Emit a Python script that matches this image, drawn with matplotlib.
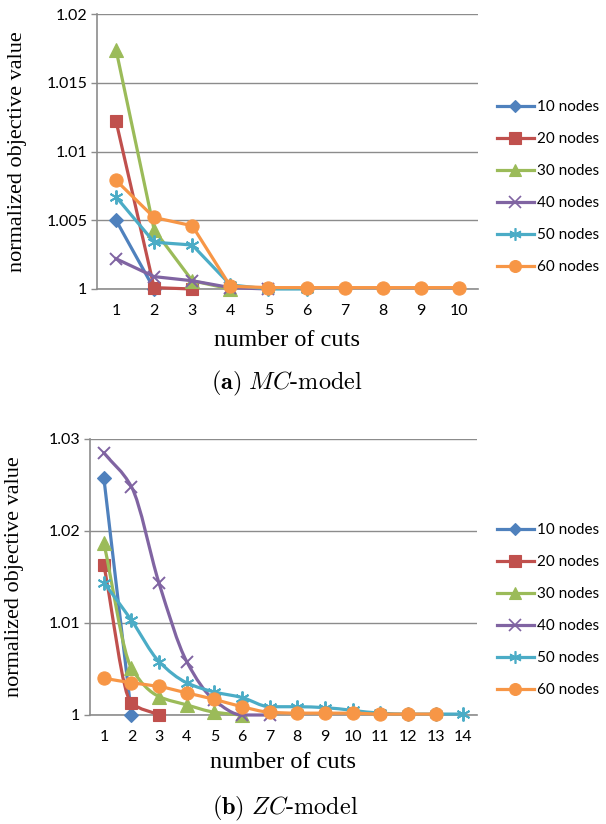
import numpy as np
import matplotlib
matplotlib.use("Agg")
import matplotlib.pyplot as plt
from matplotlib.path import Path
from matplotlib.patches import PathPatch
from matplotlib.lines import Line2D

plt.rcParams['mathtext.fontset'] = 'cm'

# ---------------- data ----------------
series_labels = ["10 nodes", "20 nodes", "30 nodes", "40 nodes", "50 nodes", "60 nodes"]

# (a) MC-model : values by number of cuts (starting at 1)
mc_10 = [1.0050, 1.0000]
mc_20 = [1.0122, 1.0001, 1.0000]
mc_30 = [1.0174, 1.0043, 1.0006, 1.0000]
mc_40 = [1.0022, 1.0009, 1.0006, 1.0001, 1.0000]
mc_50 = [1.0067, 1.0034, 1.0032, 1.0003, 1.0000, 1.0000]
mc_60 = [1.0079, 1.0052, 1.0046, 1.0002, 1.0001, 1.0001, 1.0001, 1.0001, 1.0001, 1.0001]
mc_cuts = [str(i) for i in range(1, 11)]
mc_yticks = [1.0, 1.005, 1.01, 1.015, 1.02]
mc_yticklabels = ["1", "1.005", "1.01", "1.015", "1.02"]

# (b) ZC-model
zc_10 = [1.0258, 1.0000]
zc_20 = [1.0163, 1.0013, 1.0000]
zc_30 = [1.0187, 1.0051, 1.0020, 1.0011, 1.0003, 1.0000]
zc_40 = [1.0285, 1.0248, 1.0143, 1.0058, 1.0016, 1.0000, 1.0000]
zc_50 = [1.0144, 1.0103, 1.0058, 1.0035, 1.0025, 1.0019, 1.0009, 1.0009,
         1.0008, 1.0005, 1.0002, 1.0001, 1.0001, 1.0001]
zc_60 = [1.0040, 1.0035, 1.0031, 1.0024, 1.0017, 1.0009, 1.0003, 1.0002,
         1.0002, 1.0002, 1.0001, 1.0001, 1.0001]
zc_cuts = [str(i) for i in range(1, 15)]
zc_yticks = [1.0, 1.01, 1.02, 1.03]
zc_yticklabels = ["1", "1.01", "1.02", "1.03"]

# ---------------- styles ----------------
colors = ["#4F81BD", "#C0504D", "#9BBB59", "#8064A2", "#4BACC6", "#F79646"]
markers = ["D", "s", "^", "x", (6, 2, 0), "o"]
msizes = [7, 9, 9.5, 9, 10, 9.5]
LW = 2.3
GRID = "#8C8C8C"
TICKFONT = "Lato"
SERIF = "Liberation Serif"
W, H = 606, 824
LEG_FS = 11

fig = plt.figure(figsize=(W / 100, H / 100), dpi=100)


def monotone_tangents(ys):
    n = len(ys)
    d = [ys[i + 1] - ys[i] for i in range(n - 1)]
    m = [0.0] * n
    m[0] = d[0]
    m[-1] = d[-1]
    for i in range(1, n - 1):
        if d[i - 1] * d[i] <= 0:
            m[i] = 0.0
        else:
            m[i] = 2.0 / (1.0 / d[i - 1] + 1.0 / d[i])
    return m


def smooth_path(xs, ys):
    m = monotone_tangents(ys)
    verts = [(xs[0], ys[0])]
    codes = [Path.MOVETO]
    for i in range(len(xs) - 1):
        c1 = (xs[i] + 1 / 3.0, ys[i] + m[i] / 3.0)
        c2 = (xs[i + 1] - 1 / 3.0, ys[i + 1] - m[i + 1] / 3.0)
        verts += [c1, c2, (xs[i + 1], ys[i + 1])]
        codes += [Path.CURVE4, Path.CURVE4, Path.CURVE4]
    return Path(verts, codes)


def place_legend(handles, first_y, last_y, left_x):
    """Place a legend so that its first/last row centres land at given pixel rows."""
    ls = 1.05
    leg = None
    for _ in range(4):
        if leg is not None:
            leg.remove()
        leg = fig.legend(handles, series_labels, loc="center left",
                         bbox_to_anchor=(left_x / W, 1 - (first_y + last_y) / 2 / H),
                         frameon=False, prop={"family": TICKFONT, "size": LEG_FS},
                         handlelength=2.4, handletextpad=0.25, labelspacing=ls,
                         borderpad=0, borderaxespad=0, numpoints=1)
        fig.canvas.draw()
        t = leg.get_texts()
        c0 = (t[0].get_window_extent().y0 + t[0].get_window_extent().y1) / 2
        c1 = (t[-1].get_window_extent().y0 + t[-1].get_window_extent().y1) / 2
        spacing = (c0 - c1) / (len(t) - 1)
        want = (last_y - first_y) / (len(t) - 1)
        ls += (want - spacing) / (LEG_FS * 100 / 72)
    # fine vertical shift so the rows' centre is where wanted
    fig.canvas.draw()
    t = leg.get_texts()
    cmid = ((t[0].get_window_extent().y0 + t[0].get_window_extent().y1) / 2 +
            (t[-1].get_window_extent().y0 + t[-1].get_window_extent().y1) / 2) / 2
    target = H - (first_y + last_y) / 2
    shift = (target - cmid) / H
    leg.set_bbox_to_anchor((left_x / W, 1 - (first_y + last_y) / 2 / H + shift),
                           transform=fig.transFigure)
    return leg


def make_panel(rect, data, cuts, yticks, yticklabels, smooth, ylab_x, xlabpad):
    ax = fig.add_axes(rect)
    ncat = len(cuts)
    for k, vals in enumerate(data):
        xs = np.arange(1, len(vals) + 1)
        if smooth:
            patch = PathPatch(smooth_path(list(xs), list(vals)), facecolor="none",
                              edgecolor=colors[k], lw=LW, zorder=3 + k, clip_on=False,
                              capstyle="round", joinstyle="round")
            ax.add_patch(patch)
            ls = "none"
        else:
            ls = "-"
        mew = 1.4 if markers[k] in ("x", (6, 2, 0)) else 0.8
        ax.plot(xs, vals, linestyle=ls, lw=LW, color=colors[k], marker=markers[k],
                markersize=msizes[k], markerfacecolor=colors[k], markeredgecolor=colors[k],
                markeredgewidth=mew, zorder=3 + k, clip_on=False,
                solid_joinstyle="round")
    ax.set_xlim(0.5, ncat + 0.5)
    ax.set_ylim(yticks[0], yticks[-1])
    ax.set_xticks(np.arange(1, ncat + 1))
    ax.set_xticklabels(cuts, fontfamily=TICKFONT, fontsize=11.5)
    ax.set_yticks(yticks)
    ax.set_yticklabels(yticklabels, fontfamily=TICKFONT, fontsize=11.5)
    ax.tick_params(axis="x", length=0, pad=11)
    ax.tick_params(axis="y", length=4, width=1, color=GRID, pad=3)
    ax.grid(axis="y", color=GRID, lw=1)
    ax.set_axisbelow(True)
    for s in ("top", "right"):
        ax.spines[s].set_visible(False)
    for s in ("left", "bottom"):
        ax.spines[s].set_color(GRID)
        ax.spines[s].set_linewidth(1.2)
    ax.set_xlabel("number of cuts", fontfamily=SERIF, fontsize=17.5, labelpad=xlabpad)
    ax.set_ylabel("normalized objective value", fontfamily=SERIF, fontsize=16)
    ax.yaxis.set_label_coords(ylab_x, 0.5)
    handles = [Line2D([], [], color=colors[k], lw=LW, marker=markers[k],
                      markersize=msizes[k] * 0.9, markerfacecolor=colors[k],
                      markeredgecolor=colors[k],
                      markeredgewidth=1.2 if markers[k] in ("x", (6, 2, 0)) else 0.8)
               for k in range(len(data))]
    return ax, handles


ax1, h1 = make_panel([97 / W, 1 - 289 / H, 381 / W, 275 / H],
                     [mc_10, mc_20, mc_30, mc_40, mc_50, mc_60], mc_cuts,
                     mc_yticks, mc_yticklabels, False, -0.185, 8.5)
ax2, h2 = make_panel([90 / W, 1 - 715 / H, 387 / W, 276 / H],
                     [zc_10, zc_20, zc_30, zc_40, zc_50, zc_60], zc_cuts,
                     zc_yticks, zc_yticklabels, True, -0.17, 5.5)

place_legend(h1, 107, 267, 497)
place_legend(h2, 530, 690, 497)

fig.text(287 / W, 1 - 383 / H, r"$\mathbf{(a)}\ MC\text{-model}$",
         ha="center", va="center", fontsize=17.5)
fig.text(285 / W, 1 - 808 / H, r"$\mathbf{(b)}\ ZC\text{-model}$",
         ha="center", va="center", fontsize=17.5)

fig.savefig("out.png", dpi=100)
